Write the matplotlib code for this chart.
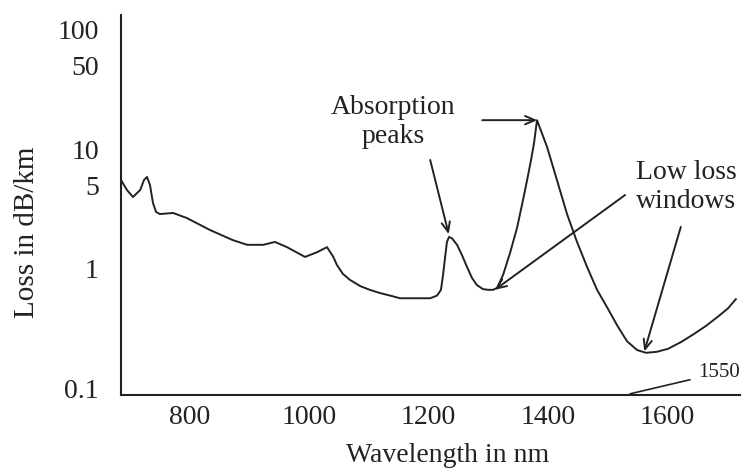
import matplotlib
matplotlib.use("Agg")
import matplotlib.pyplot as plt
from matplotlib.ticker import FixedLocator, FixedFormatter, NullLocator

plt.rcParams['font.family'] = ['Liberation Serif', 'DejaVu Serif']

# Data
wavelength = [686, 696, 706, 718, 724.5, 729.5, 734.5, 739.5, 744.5, 751, 773, 796, 835,
              873, 897, 923.5, 943.5, 963.6, 993.7, 1013.8, 1030.5, 1041, 1047, 1057,
              1069, 1086, 1102, 1119, 1136, 1152.6, 1186, 1203, 1214.4, 1221, 1224.5,
              1227.8, 1231, 1234.5, 1239.5, 1247.9, 1256, 1264.5, 1273, 1281, 1291,
              1299.7, 1308, 1314.8, 1324.8, 1336.5, 1348.2, 1358.2, 1365, 1371.6,
              1376.6, 1381.6, 1398.4, 1415, 1431.8, 1448.5, 1465.3, 1482, 1498.7,
              1515.4, 1532, 1548.9, 1564, 1582, 1600.7, 1622.5, 1644, 1664, 1684,
              1701, 1714]
loss = [5.52, 4.55, 3.98, 4.55, 5.52, 5.85, 5.0, 3.55, 2.99, 2.87, 2.93, 2.66, 2.11,
        1.74, 1.59, 1.59, 1.68, 1.52, 1.26, 1.38, 1.52, 1.26, 1.08, 0.91,
        0.81, 0.72, 0.67, 0.63, 0.60, 0.57, 0.57, 0.57, 0.60, 0.67, 0.89,
        1.24, 1.68, 1.85, 1.80, 1.59, 1.31, 1.04, 0.84, 0.735, 0.68,
        0.67, 0.67, 0.695, 0.89, 1.36, 2.2, 3.76, 5.5, 8.1,
        11.2, 17.4, 10.4, 5.5, 2.87, 1.68, 1.04, 0.67, 0.48,
        0.34, 0.25, 0.211, 0.20, 0.204, 0.216, 0.246, 0.287, 0.335, 0.40,
        0.47, 0.56]

y_ticks = [0.1, 1, 5, 10, 50, 100]
y_tick_labels = ["0.1", "1", "5", "10", "50", "100"]
x_ticks = [800, 1000, 1200, 1400, 1600]
x_tick_labels = ["800", "1000", "1200", "1400", "1600"]

ink = '#222222'
fs = 20

fig = plt.figure(figsize=(7.48, 4.74), dpi=100)
W, H = 748, 474
ax = fig.add_axes([121 / W, 1 - 395 / H, (740 - 121) / W, (395 - 15) / H])

ax.plot(wavelength, loss, color=ink, lw=1.4, solid_joinstyle='round')
ax.set_yscale('log')
ax.set_xlim(686, 1721)
ax.set_ylim(0.089, 131)

ax.yaxis.set_major_locator(FixedLocator(y_ticks))
ax.yaxis.set_major_formatter(FixedFormatter(y_tick_labels))
ax.yaxis.set_minor_locator(NullLocator())
ax.xaxis.set_major_locator(FixedLocator(x_ticks))
ax.xaxis.set_major_formatter(FixedFormatter(x_tick_labels))
ax.tick_params(axis='both', length=0, labelsize=fs, colors=ink)
ax.tick_params(axis='y', pad=16)
ax.tick_params(axis='x', pad=7)

for s in ['top', 'right']:
    ax.spines[s].set_visible(False)
for s in ['left', 'bottom']:
    ax.spines[s].set_color(ink)
    ax.spines[s].set_linewidth(1.5)

fig.text(27 / W, 1 - 232 / H, "Loss in dB/km", rotation=90, ha='center', va='center',
         fontsize=21, color=ink)
fig.text(448 / W, 1 - 456 / H, "Wavelength in nm", ha='center', va='center',
         fontsize=fs, color=ink)

arrow = dict(arrowstyle='->,head_length=0.7,head_width=0.3', color=ink, lw=1.4,
             shrinkA=0, shrinkB=0)

# Absorption peaks label and arrows
ax.text(1141, 16.8, "Absorption\npeaks", ha='center', va='center', fontsize=fs,
        color=ink, linespacing=1.2, multialignment='center')
ax.annotate("", xy=(1234, 1.95), xytext=(1203, 8.1), arrowprops=arrow)
ax.annotate("", xy=(1382, 17.4), xytext=(1290, 17.4), arrowprops=arrow)

# Low loss windows label and arrows
ax.text(1631, 4.8, "Low loss\nwindows", ha='center', va='center', fontsize=fs,
        color=ink, linespacing=1.2, multialignment='center')
ax.annotate("", xy=(1311, 0.67), xytext=(1529, 4.14), arrowprops=arrow)
ax.annotate("", xy=(1561, 0.205), xytext=(1622, 2.24), arrowprops=arrow)

# 1550 leader
ax.annotate("1550", xy=(1537, 0.091), xytext=(1651, 0.136), ha='left', va='center',
            fontsize=15, color=ink,
            arrowprops=dict(arrowstyle='-', color=ink, lw=1.2, shrinkA=4, shrinkB=0),
            annotation_clip=False)

fig.savefig("out.png", dpi=100)
